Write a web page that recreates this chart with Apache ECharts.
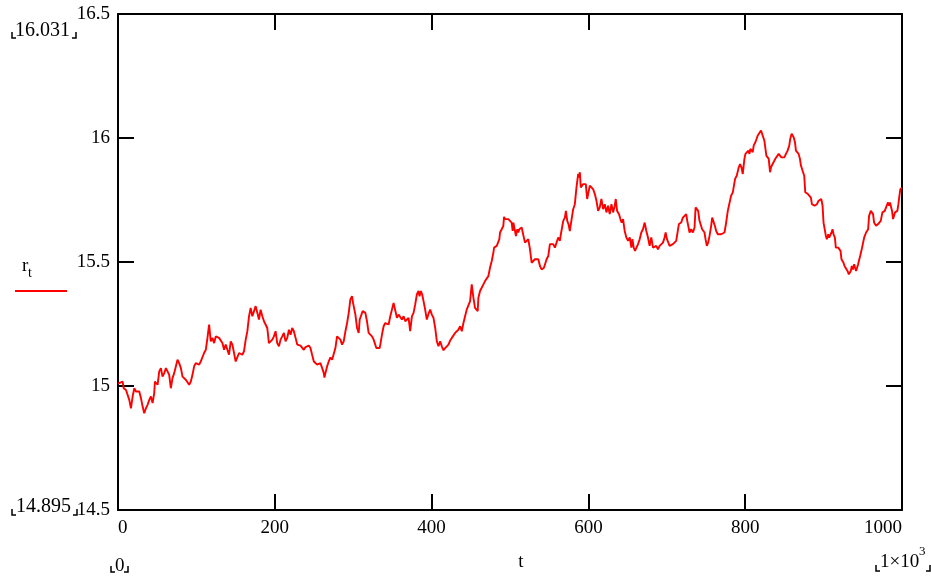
<!DOCTYPE html>
<html>
<head>
<meta charset="utf-8">
<script src="https://cdn.jsdelivr.net/npm/echarts@6/dist/echarts.min.js"></script>
<style>
  html, body { margin: 0; padding: 0; background: #fff; }
  #chart { width: 931px; height: 581px; }
</style>
</head>
<body>
<div id="chart"></div>
<script>
// t (time step) and r_t
const tValues = [
  0, 1.7, 5.9, 7.2, 10.2, 12.3, 14.4, 16.5, 18.7, 20.8, 22.9,
  25.0, 27.1, 29.3, 31.4, 33.5, 35.6, 37.7, 39.9, 42.0, 44.1,
  46.2, 47.1, 50.5, 52.6, 54.7, 56.8, 59.0, 61.1, 63.2, 65.3,
  67.4, 69.5, 71.7, 73.8, 75.9, 78.0, 80.2, 82.3, 84.4, 86.5,
  88.6, 90.8, 92.9, 95.0, 97.1, 99.2, 101.4, 103.5, 105.6, 107.7,
  109.8, 112.0, 114.1, 116.2, 118.3, 120.4, 122.6, 124.7, 126.8, 128.9,
  131.0, 133.2, 135.3, 137.4, 139.5, 141.6, 143.8, 145.9, 148.0, 150.1,
  152.2, 154.4, 156.5, 158.6, 160.7, 162.9, 165.0, 167.1, 169.2, 171.3,
  173.5, 175.6, 177.7, 179.8, 181.9, 184.1, 186.2, 188.3, 190.4, 192.5,
  194.7, 196.8, 198.9, 201.0, 203.1, 205.3, 207.4, 209.5, 211.6, 213.7,
  215.9, 218.0, 220.1, 222.2, 224.3, 226.5, 228.6,
  232.8, 234.9, 237.0, 239.2, 241.3, 243.4, 245.5, 247.6, 249.8, 251.9,
  254.0, 256.1, 258.2, 260.4, 262.5, 263.3, 264.6, 266.7, 268.8, 271.0,
  273.1, 275.2, 277.3, 279.4, 281.6, 283.7, 285.8, 287.9, 290.1, 292.2,
  294.3, 296.4, 298.5, 299.8, 301.5, 302.8, 304.9, 307.0, 308.3, 310.4,
  312.1, 313.4, 315.5, 317.6, 319.7, 321.9, 324.0, 326.1, 328.2, 329.5,
  331.2, 333.7, 334.6, 336.7, 338.8, 340.9, 343.1, 345.2, 347.3, 349.4,
  351.5, 353.7, 355.8, 357.9, 360.0, 362.1, 364.3, 366.4, 368.5, 370.6,
  372.7, 374.9, 377.0, 379.1, 381.2, 383.3, 384.6, 386.3, 388.0, 389.7,
  391.8, 393.9, 395.2, 396.5, 398.2, 400.3, 402.4, 404.6, 406.7, 408.8,
  410.9, 413.0, 415.2, 417.3, 419.4, 421.5, 423.6, 425.8, 427.9, 430.0,
  432.1, 434.2, 436.4, 438.5, 440.6, 442.7, 444.8, 447.0, 449.1, 451.2,
  453.3, 455.4, 457.6, 458.8, 459.7, 461.8, 463.9, 466.1, 468.2, 470.3,
  472.4, 474.5, 476.7, 478.8,
  479.7, 480.9, 483.1, 485.2, 486.4, 487.3, 489.4, 491.5, 492.4, 493.7,
  495.8, 497.9, 500.0, 502.1, 503.4, 504.3, 506.4, 507.6, 509.3, 510.6,
  511.9, 513.6, 514.9, 517.0, 519.1, 521.2, 523.3, 525.5, 527.6, 529.7,
  531.8, 533.9, 536.1, 538.2, 540.3, 541.6, 543.3, 544.5, 546.7, 548.8,
  550.9, 553.0, 555.1, 557.3, 559.4, 561.5, 563.6, 564.9, 566.2, 567.9,
  570.0, 571.3, 573.0, 574.7, 576.3, 577.6, 578.9, 580.6, 582.7, 584.8,
  587.0, 588.2, 589.1, 590.3, 592.0, 593.3, 595.4, 596.7, 598.4, 600.1,
  601.8, 603.9, 606.0, 608.2, 610.3, 612.4, 614.5, 616.6, 618.8, 620.9,
  623.0, 625.1, 627.2, 629.4, 631.5, 633.6, 634.9, 636.6, 639.1, 640.8,
  642.5, 644.2, 646.3, 648.4, 650.6, 652.7, 654.8, 656.1, 657.8, 659.5,
  661.2, 663.3, 665.4, 667.5, 669.6, 671.8, 673.9, 676.0, 678.1, 680.2,
  682.4, 684.5, 686.6, 688.7, 690.8, 693.0, 695.1, 697.2, 698.5, 700.2,
  701.4, 703.6, 705.7, 707.8, 709.9, 712.0, 714.2, 715.4,
  716.3, 718.4, 720.5, 722.7, 724.8, 726.1, 727.8, 729.0, 731.1, 733.3,
  735.4, 736.7, 738.4, 740.0, 741.7, 743.9, 745.1, 746.8, 748.1, 749.4,
  751.1, 752.8, 754.5, 756.6, 757.9, 759.6, 761.3, 763.0, 765.1, 767.2,
  769.3, 771.4, 773.6, 775.7, 777.8, 779.9, 782.0, 784.2, 785.4, 787.1,
  789.2, 790.5, 791.8, 793.5, 795.2, 796.9, 799.0, 800.3, 802.4, 804.1,
  805.4, 806.6, 808.3, 809.6, 810.9, 813.0, 814.7, 816.0, 818.1, 820.2,
  822.3, 824.4, 825.7, 827.0, 828.7, 830.0, 831.7, 832.9, 835.0, 837.2,
  838.4, 840.1, 842.7, 844.4, 846.1, 847.8, 849.9, 852.0, 854.1, 856.2,
  857.5, 859.2, 860.5, 861.8, 863.5, 864.7, 866.9, 868.1, 869.8, 871.1,
  873.2, 875.3, 876.6, 878.3, 880.0, 881.7, 883.8, 885.1, 886.8, 888.5,
  890.2, 891.5, 893.6, 895.3, 897.0, 898.7, 899.9, 901.6, 902.9, 904.2,
  905.9, 907.1, 908.4, 910.1, 911.4, 912.7, 914.4, 915.6, 916.9, 918.6,
  919.9, 921.6, 922.8, 924.1, 925.4, 926.7, 927.9, 929.2, 930.5, 932.2,
  933.4, 934.7, 936.0, 937.3, 939.0, 940.2, 941.5, 942.8, 944.0, 945.3,
  946.6, 947.9, 949.1, 950.4, 951.7, 952.9, 954.2, 955.5, 956.8, 958.0,
  960.2, 961.4, 963.1, 964.4, 965.7, 966.9, 968.2, 969.5, 970.8, 972.9,
  975.0, 976.3, 978.0, 979.2, 980.5, 982.2, 983.5, 984.7, 986.0, 987.3,
  988.6, 989.8, 991.1, 992.8, 994.1, 995.4, 996.7, 997.9, 1000
]

const rValues = [
  15.01, 15.005, 15.018, 14.991, 14.984, 14.991, 14.944, 14.910, 14.958, 14.991, 14.978,
  14.971, 14.978, 14.951, 14.917, 14.890, 14.910, 14.924, 14.944, 14.958, 14.931,
  14.971, 15.018, 15.005, 15.059, 15.072, 15.038, 15.052, 15.072, 15.059, 15.045,
  14.991, 15.032, 15.052, 15.079, 15.106, 15.092, 15.072, 15.038, 15.045, 15.025,
  15.032, 15.005, 15.018, 15.045, 15.079, 15.092, 15.099, 15.086, 15.099, 15.106,
  15.133, 15.146, 15.194, 15.248, 15.180, 15.194, 15.173, 15.200, 15.207, 15.194,
  15.200, 15.173, 15.146, 15.167, 15.146, 15.126, 15.180, 15.167, 15.133, 15.099,
  15.106, 15.133, 15.133, 15.126, 15.140, 15.187, 15.221, 15.281, 15.315, 15.281,
  15.302, 15.322, 15.295, 15.268, 15.308, 15.281, 15.261, 15.254, 15.234, 15.173,
  15.180, 15.187, 15.200, 15.221, 15.173, 15.160, 15.187, 15.200, 15.214, 15.180,
  15.194, 15.227, 15.207, 15.234, 15.221, 15.194, 15.167,
  15.163, 15.160, 15.146, 15.157, 15.160, 15.163, 15.153, 15.126, 15.099, 15.092,
  15.086, 15.079, 15.092, 15.072, 15.052, 15.034, 15.052, 15.079, 15.099, 15.115,
  15.106, 15.113, 15.153, 15.200, 15.207, 15.187, 15.167, 15.180, 15.221, 15.254,
  15.295, 15.349, 15.362, 15.335, 15.329, 15.288, 15.234, 15.214, 15.268, 15.275,
  15.302, 15.308, 15.295, 15.261, 15.214, 15.207, 15.200, 15.187, 15.180, 15.153,
  15.146, 15.153, 15.167, 15.207, 15.241, 15.254, 15.261, 15.248, 15.281, 15.308,
  15.335, 15.329, 15.275, 15.288, 15.295, 15.268, 15.281, 15.261, 15.254, 15.275,
  15.221, 15.281, 15.295, 15.329, 15.369, 15.383, 15.362, 15.383, 15.369, 15.342,
  15.308, 15.268, 15.275, 15.295, 15.308, 15.288, 15.275, 15.234, 15.180, 15.160,
  15.180, 15.160, 15.144, 15.153, 15.153, 15.167, 15.183, 15.194, 15.194, 15.214,
  15.221, 15.227, 15.241, 15.221, 15.254, 15.281, 15.308, 15.315, 15.342, 15.410,
  15.356, 15.315, 15.308, 15.302, 15.356, 15.383, 15.396, 15.410, 15.423, 15.430,
  15.443, 15.477, 15.504, 15.538,
  15.558, 15.565, 15.565, 15.572, 15.592, 15.619, 15.632, 15.646, 15.682, 15.673,
  15.673, 15.673, 15.666, 15.659, 15.625, 15.659, 15.652, 15.605, 15.632, 15.619,
  15.632, 15.625, 15.639, 15.639, 15.578, 15.585, 15.592, 15.551, 15.497, 15.504,
  15.511, 15.511, 15.511, 15.484, 15.470, 15.464, 15.477, 15.484, 15.511, 15.524,
  15.572, 15.578, 15.572, 15.558, 15.565, 15.599, 15.585, 15.612, 15.619, 15.666,
  15.679, 15.706, 15.666, 15.652, 15.625, 15.619, 15.679, 15.713, 15.733, 15.801,
  15.855, 15.841, 15.862, 15.801, 15.794, 15.814, 15.808, 15.814, 15.754, 15.760,
  15.808, 15.814, 15.794, 15.774, 15.747, 15.706, 15.720, 15.754, 15.713, 15.733,
  15.700, 15.727, 15.693, 15.733, 15.700, 15.727, 15.754, 15.706, 15.693, 15.673,
  15.659, 15.673, 15.625, 15.599, 15.585, 15.599, 15.558, 15.592, 15.558, 15.545,
  15.538, 15.572, 15.592, 15.619, 15.632, 15.659, 15.625, 15.599, 15.565, 15.599,
  15.558, 15.565, 15.565, 15.551, 15.565, 15.572, 15.578, 15.599, 15.619, 15.592,
  15.599, 15.565, 15.572, 15.572, 15.572, 15.585, 15.592, 15.653,
  15.653, 15.659, 15.679, 15.686, 15.693, 15.666, 15.639, 15.619, 15.632, 15.619,
  15.639, 15.720, 15.720, 15.706, 15.666, 15.666, 15.632, 15.632, 15.619, 15.592,
  15.565, 15.578, 15.605, 15.646, 15.679, 15.673, 15.646, 15.625, 15.612, 15.605,
  15.612, 15.619, 15.619, 15.659, 15.706, 15.700, 15.767, 15.781, 15.774, 15.835,
  15.848, 15.855, 15.882, 15.895, 15.882, 15.855, 15.916, 15.936, 15.929, 15.949,
  15.936, 15.956, 15.963, 15.943, 15.970, 15.983, 15.983, 16.010, 16.017, 16.030,
  16.030, 15.990, 15.997, 15.929, 15.922, 15.916, 15.862, 15.882, 15.895, 15.902,
  15.916, 15.916, 15.936, 15.943, 15.922, 15.916, 15.922, 15.936, 15.949, 15.970,
  15.997, 16.017, 16.014, 16.003, 15.983, 15.949, 15.949, 15.936, 15.916, 15.889,
  15.868, 15.848, 15.781, 15.774, 15.774, 15.767, 15.760, 15.733, 15.727, 15.727,
  15.727, 15.733, 15.747, 15.740, 15.754, 15.727, 15.659, 15.653, 15.605, 15.592,
  15.612, 15.598, 15.605, 15.619, 15.632, 15.612, 15.598, 15.558, 15.565, 15.558,
  15.558, 15.545, 15.511, 15.518, 15.497, 15.484, 15.477, 15.484, 15.464, 15.450,
  15.457, 15.464, 15.484, 15.470, 15.491, 15.477, 15.464, 15.457, 15.491, 15.497,
  15.524, 15.518, 15.558, 15.578, 15.598, 15.592, 15.619, 15.612, 15.632, 15.686,
  15.706, 15.713, 15.693, 15.659, 15.666, 15.646, 15.639, 15.653, 15.646, 15.666,
  15.700, 15.706, 15.706, 15.700, 15.727, 15.740, 15.727, 15.740, 15.747, 15.706,
  15.673, 15.686, 15.700, 15.693, 15.706, 15.733, 15.767, 15.794, 15.80
]

// axis range shown in the placeholders
const xMin = 0
const xMax = 1000
const yMin = 14.5
const yMax = 16.5
const rMaxLabel = '16.031'
const rMinLabel = '14.895'

const serif = 'Liberation Serif'
const black = '#000'

const seriesData = tValues.map((t, i) => [t, rValues[i]])

const frameLine = { show: true, onZero: false, lineStyle: { color: black, width: 2 } }
const tick = { show: true, inside: true, length: 16, lineStyle: { color: black, width: 2 } }

// little Mathcad corner marks round the placeholder numbers
function bracket(x, y, side) {
  const pts = side === 'l'
    ? [[x, y - 6], [x, y], [x + 4, y]]
    : [[x - 4, y], [x, y], [x, y - 6]]
  return {
    type: 'polyline',
    shape: { points: pts },
    style: { stroke: black, lineWidth: 1.5, fill: null }
  }
}
function label(text, x, y, size, align) {
  return {
    type: 'text',
    x: x,
    y: y,
    style: {
      text: text,
      font: size + 'px "' + serif + '"',
      fill: black,
      align: align || 'left',
      verticalAlign: 'middle'
    }
  }
}

const chart = echarts.init(document.getElementById('chart'))
chart.setOption({
  animation: false,
  backgroundColor: '#fff',
  grid: { left: 118, right: 29, top: 14, bottom: 71 },
  xAxis: [
    {
      type: 'value', min: xMin, max: xMax, interval: 200, position: 'bottom',
      axisLine: frameLine, axisTick: tick, splitLine: { show: false },
      axisLabel: {
        color: black, fontFamily: serif, fontSize: 19, margin: 9,
        alignMinLabel: 'left', alignMaxLabel: 'right',
        formatter: v => String(v)
      }
    },
    {
      type: 'value', min: xMin, max: xMax, interval: 200, position: 'top',
      axisLine: frameLine, axisTick: tick, splitLine: { show: false },
      axisLabel: { show: false }
    }
  ],
  yAxis: [
    {
      type: 'value', min: yMin, max: yMax, interval: 0.5, position: 'left',
      axisLine: frameLine, axisTick: tick, splitLine: { show: false },
      axisLabel: { color: black, fontFamily: serif, fontSize: 19, margin: 8, formatter: v => String(v) }
    },
    {
      type: 'value', min: yMin, max: yMax, interval: 0.5, position: 'right',
      axisLine: frameLine, axisTick: tick, splitLine: { show: false },
      axisLabel: { show: false }
    }
  ],
  series: [
    {
      type: 'line',
      data: seriesData,
      showSymbol: false,
      lineStyle: { color: '#ff0000', width: 1.9 },
      z: 1
    }
  ],
  graphic: [
    label(rMaxLabel, 15, 31, 20),
    bracket(12, 38, 'l'),
    bracket(76, 38, 'r'),
    label(rMinLabel, 16, 507, 20),
    bracket(12, 515, 'l'),
    bracket(77, 515, 'r'),
    label(String(xMin), 115, 566, 19),
    bracket(111, 572, 'l'),
    bracket(128, 572, 'r'),
    label('1×10', 880, 562, 19),
    label('3', 919, 552, 13),
    bracket(876, 571, 'l'),
    bracket(930, 571, 'r'),
    label('t', 521, 562, 19, 'center'),
    label('r', 22, 266, 19),
    label('t', 28, 273, 14),
    {
      type: 'line',
      shape: { x1: 15, y1: 291, x2: 67, y2: 291 },
      style: { stroke: '#ff0000', lineWidth: 2 }
    }
  ]
})
</script>
</body>
</html>
